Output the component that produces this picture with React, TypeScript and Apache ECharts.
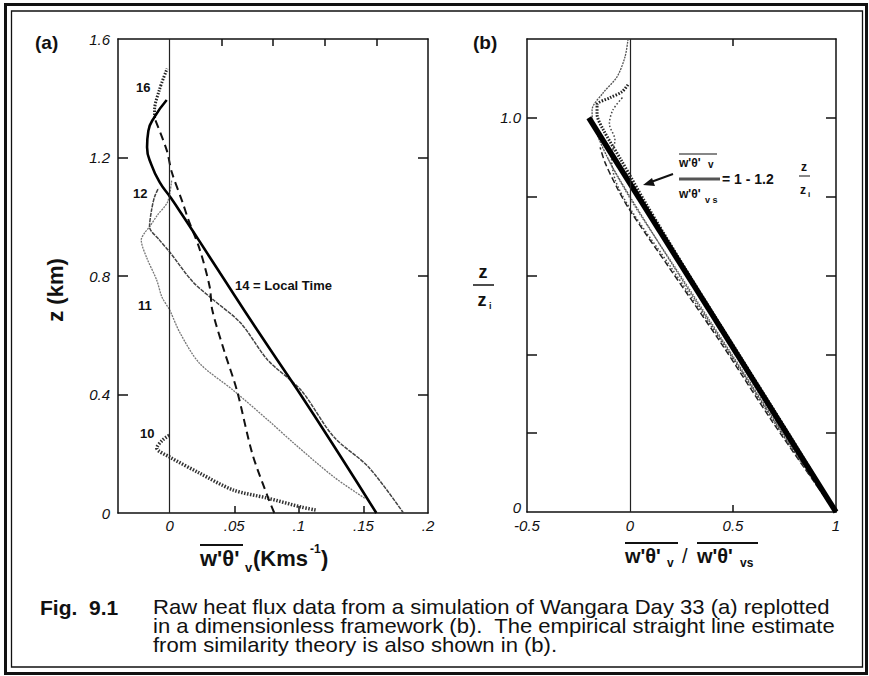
import React, { useEffect, useRef } from "react";
import * as echarts from "echarts";

// ---------- Panel (a): heat flux (K m/s) vs height z (km) ----------
const aTickValuesX = [0, 0.05, 0.1, 0.15, 0.2];
const aTickLabelsX = ["0", ".05", ".1", ".15", ".2"];
const aTickValuesY = [0, 0.4, 0.8, 1.2, 1.6];
const aTickLabelsY = ["0", "0.4", "0.8", "1.2", "1.6"];

const localTime14 = [[0.16, 0], [0.131, 0.2], [0.099, 0.415], [0.0674, 0.62], [0.039, 0.81], [0.0224, 0.922], [0.0098, 1.006], [0.001, 1.063], [-0.0078, 1.117], [-0.0141, 1.175], [-0.0175, 1.235], [-0.0165, 1.29], [-0.0117, 1.337], [-0.0023, 1.394]];
const localTime16 = [[0.081, 0], [0.076, 0.054], [0.064, 0.2], [0.052, 0.415], [0.042, 0.55], [0.033, 0.685], [0.031, 0.763], [0.0234, 0.888], [0.014, 0.996], [0.0102, 1.046], [0.0016, 1.151], [-0.0023, 1.225], [-0.0117, 1.333]];
const localTime16Top = [[-0.0117, 1.333], [-0.0117, 1.36], [-0.008, 1.428], [-0.002, 1.5]];
const localTime12 = [[0.181, 0], [0.154, 0.155], [0.127, 0.257], [0.1016, 0.415], [0.076, 0.516], [0.055, 0.641], [0.034, 0.719], [0.018, 0.78], [0, 0.881], [-0.008, 0.922], [-0.0156, 0.966], [-0.014, 1.023], [-0.0117, 1.067], [-0.0086, 1.097]];
const localTime11 = [[0.151, 0.05], [0.127, 0.122], [0.096, 0.236], [0.076, 0.314], [0.049, 0.415], [0.023, 0.506], [0.008, 0.608], [0, 0.685], [-0.006, 0.729], [-0.01, 0.786], [-0.018, 0.864], [-0.022, 0.922], [-0.0195, 0.945], [-0.0156, 0.966], [-0.0094, 1.006], [-0.0016, 1.05], [0.0016, 1.124]];
const localTime10 = [[0.113, 0.01], [0.102, 0.02], [0.076, 0.05], [0.049, 0.078], [0.023, 0.135], [0, 0.189], [-0.01, 0.219], [-0.0055, 0.246], [0, 0.263]];

// ---------- Panel (b): normalised flux vs z/zi ----------
const bTickValuesX = [-0.5, 0, 0.5, 1];
const bTickLabelsX = ["-0.5", "0", "0.5", "1"];
const bLabelValuesY = [0, 1.0];
const bLabelTextsY = ["0", "1.0"];
const bTickValuesY = [0.2, 0.4, 0.6, 0.8, 1.0];

const bEmpirical = [[1, 0], [-0.2, 1.0]];
const bProfile14 = [[1, 0], [0.74, 0.2], [0.49, 0.4], [0.24, 0.6], [0.0, 0.8], [-0.11, 0.9], [-0.18, 0.99], [-0.184, 1.02], [-0.131, 1.063], [-0.063, 1.104], [-0.024, 1.155], [-0.01, 1.198]];
const bProfile16 = [[1, 0], [0.78, 0.19], [0.54, 0.39], [0.3, 0.59], [0.08, 0.78], [-0.04, 0.89], [-0.13, 0.97], [-0.16, 1.01], [-0.16, 1.033], [-0.097, 1.051], [-0.039, 1.066], [-0.01, 1.084]];
const bProfile12 = [[0.98, 0.01], [0.71, 0.22], [0.46, 0.42], [0.2, 0.62], [0.0, 0.77], [-0.07, 0.84], [-0.09, 0.9], [-0.073, 0.944], [-0.1, 0.985], [-0.083, 1.02], [-0.034, 1.053]];
const bProfile11 = [[0.97, 0.02], [0.69, 0.23], [0.44, 0.43], [0.19, 0.62], [0.0, 0.765], [-0.06, 0.82], [-0.12, 0.885], [-0.145, 0.925]];
const bProfile10 = [[0.99, 0.01], [0.72, 0.22], [0.47, 0.42], [0.22, 0.62], [0.03, 0.77], [-0.06, 0.85], [-0.11, 0.9]];

const captionLines = [
  "Raw heat flux data from a simulation of Wangara Day 33 (a) replotted",
  "in a dimensionless framework (b).  The empirical straight line estimate",
  "from similarity theory is also shown in (b).",
];

const SANS = "'Liberation Sans', Arial, Helvetica, sans-serif";

function pick(values: number[], labels: string[]) {
  return (v: number) => {
    const i = values.findIndex((t) => Math.abs(t - v) < 1e-9);
    return i >= 0 ? labels[i] : "";
  };
}

const axisLine = { show: true, onZero: false, lineStyle: { color: "#111", width: 1.5 } };
const tickLabel = { fontFamily: SANS, fontStyle: "italic" as const, fontSize: 15, color: "#111" };
const tickStyle = { color: "#111", width: 1.5 };

function lineSeries(data: number[][], idx: number, style: any, smooth: number | boolean = 0.3) {
  return {
    type: "line",
    xAxisIndex: idx,
    yAxisIndex: idx,
    data,
    showSymbol: false,
    smooth,
    lineStyle: style,
    silent: true,
    z: 3,
  };
}

export default function App() {
  const ref = useRef<HTMLDivElement>(null);
  useEffect(() => {
    if (!ref.current) return;
    const chart = echarts.init(ref.current, null, { renderer: "svg" });
    const txt = (x: number, y: number, text: string, extra: any = {}, el: any = {}) => ({
      type: "text",
      x,
      y,
      silent: true,
      ...el,
      style: { text, fontFamily: SANS, fontSize: 14, fill: "#111", verticalAlign: "middle", ...extra },
    });
    const ln = (x1: number, y1: number, x2: number, y2: number, w = 1.5, color = "#111") => ({
      type: "line",
      silent: true,
      shape: { x1, y1, x2, y2 },
      style: { stroke: color, lineWidth: w },
    });

    const bYFormatter = (v: number) => {
      const s = pick(bLabelValuesY, bLabelTextsY)(v);
      if (!s) return "";
      return Math.abs(v) < 1e-9 ? `{lift|${s}}` : s;
    };

    const option: any = {
      animation: false,
      backgroundColor: "#fff",
      grid: [
        { left: 118, top: 39, width: 310, height: 474 },
        { left: 527, top: 39, width: 309, height: 473 },
      ],
      xAxis: [
        {
          gridIndex: 0, type: "value", position: "bottom", min: -0.04, max: 0.2,
          axisLine, splitLine: { show: false },
          axisTick: { show: true, inside: true, length: 7, customValues: aTickValuesX.slice(1, 4), lineStyle: tickStyle },
          axisLabel: { ...tickLabel, margin: 5, customValues: aTickValuesX, formatter: pick(aTickValuesX, aTickLabelsX) },
        },
        {
          gridIndex: 0, type: "value", position: "top", min: -0.04, max: 0.2, interval: 0.04,
          axisLine, splitLine: { show: false },
          axisTick: { show: true, inside: true, length: 7, customValues: [0.04, 0.08, 0.12, 0.16], lineStyle: tickStyle },
          axisLabel: { show: false },
        },
        {
          gridIndex: 1, type: "value", position: "bottom", min: -0.5, max: 1, interval: 0.5,
          axisLine, splitLine: { show: false },
          axisTick: { show: true, inside: true, length: 7, customValues: [0.5], lineStyle: tickStyle },
          axisLabel: { ...tickLabel, margin: 6, customValues: bTickValuesX, formatter: pick(bTickValuesX, bTickLabelsX) },
        },
        {
          gridIndex: 1, type: "value", position: "top", min: -0.5, max: 1, interval: 0.5,
          axisLine, splitLine: { show: false },
          axisTick: { show: true, inside: true, length: 7, customValues: [0.5], lineStyle: tickStyle },
          axisLabel: { show: false },
        },
      ],
      yAxis: [
        {
          gridIndex: 0, type: "value", position: "left", min: 0, max: 1.6, interval: 0.4,
          axisLine, splitLine: { show: false },
          axisTick: { show: true, inside: true, length: 10, customValues: aTickValuesY.slice(1, 4), lineStyle: tickStyle },
          axisLabel: { ...tickLabel, margin: 8, formatter: pick(aTickValuesY, aTickLabelsY) },
        },
        {
          gridIndex: 0, type: "value", position: "right", min: 0, max: 1.6, interval: 0.4,
          axisLine, splitLine: { show: false },
          axisTick: { show: true, inside: true, length: 10, customValues: aTickValuesY.slice(1, 4), lineStyle: tickStyle },
          axisLabel: { show: false },
        },
        {
          gridIndex: 1, type: "value", position: "left", min: 0, max: 1.2, interval: 0.2,
          axisLine, splitLine: { show: false },
          axisTick: { show: true, inside: true, length: 10, customValues: bTickValuesY, lineStyle: tickStyle },
          axisLabel: {
            ...tickLabel, margin: 6, customValues: bLabelValuesY, formatter: bYFormatter,
            rich: { lift: { ...tickLabel, padding: [0, 0, 10, 0] } },
          },
        },
        {
          gridIndex: 1, type: "value", position: "right", min: 0, max: 1.2, interval: 0.2,
          axisLine, splitLine: { show: false },
          axisTick: { show: true, inside: true, length: 10, customValues: bTickValuesY, lineStyle: tickStyle },
          axisLabel: { show: false },
        },
      ],
      series: [
        {
          ...lineSeries([], 0, {}),
          markLine: {
            silent: true, symbol: "none", label: { show: false },
            lineStyle: { color: "#222", width: 1.2, type: "solid" },
            data: [{ xAxis: 0 }],
          },
        },
        lineSeries(localTime10, 0, { color: "#333", width: 3.5, type: [1.5, 1.5] }),
        lineSeries(localTime11, 0, { color: "#777", width: 1.3, type: [2, 1] }),
        lineSeries(localTime12, 0, { color: "#444", width: 1.5, type: [4, 1] }),
        lineSeries(localTime16, 0, { color: "#111", width: 2, type: [8, 5] }),
        lineSeries(localTime16Top, 0, { color: "#222", width: 3, type: [1.5, 1.5] }),
        lineSeries(localTime14, 0, { color: "#000", width: 2.6, type: "solid" }, 0.5),
        {
          ...lineSeries([], 2, {}),
          markLine: {
            silent: true, symbol: "none", label: { show: false },
            lineStyle: { color: "#222", width: 1.2, type: "solid" },
            data: [{ xAxis: 0 }],
          },
        },
        lineSeries(bProfile14, 2, { color: "#555", width: 1.3, type: [2, 1] }),
        lineSeries(bProfile11, 2, { color: "#222", width: 1.5, type: [6, 3] }),
        lineSeries(bProfile10, 2, { color: "#666", width: 1.3, type: [1.5, 1.5] }),
        lineSeries(bProfile12, 2, { color: "#444", width: 1.5, type: [1.5, 2] }),
        lineSeries(bProfile16, 2, { color: "#222", width: 3, type: [1.5, 1.5] }),
        lineSeries(bEmpirical, 2, { color: "#000", width: 5.5, type: "solid" }, false),
      ],
      graphic: [
        // outer double frame
        { type: "rect", silent: true, shape: { x: 5.5, y: 4.5, width: 861, height: 669 }, style: { fill: "none", stroke: "#111", lineWidth: 3 } },
        { type: "rect", silent: true, shape: { x: 11.5, y: 11, width: 851, height: 656 }, style: { fill: "none", stroke: "#111", lineWidth: 1.3 } },
        // panel letters
        txt(35, 42, "(a)", { fontSize: 19, fontWeight: "bold" }),
        txt(473, 42, "(b)", { fontSize: 19, fontWeight: "bold" }),
        // panel (a) axis titles
        {
          type: "text", silent: true, x: 55, y: 290, rotation: Math.PI / 2,
          style: { text: "z (km)", fontFamily: SANS, fontSize: 22, fontWeight: "bold", fill: "#111", align: "center", verticalAlign: "middle" },
        },
        ln(200, 545, 243, 545, 2),
        txt(200, 558, "w'θ'", { fontSize: 22, fontWeight: "bold" }),
        txt(245, 567, "v", { fontSize: 13, fontWeight: "bold" }),
        txt(253, 558, "(Kms", { fontSize: 22, fontWeight: "bold" }),
        txt(310, 549, "-1", { fontSize: 12, fontWeight: "bold" }),
        txt(321, 558, ")", { fontSize: 22, fontWeight: "bold" }),
        // curve labels in (a)
        txt(136, 87, "16", { fontSize: 13, fontWeight: "bold" }),
        txt(133, 193, "12", { fontSize: 13, fontWeight: "bold" }),
        txt(138, 305, "11", { fontSize: 13, fontWeight: "bold" }),
        txt(140, 433, "10", { fontSize: 13, fontWeight: "bold" }),
        txt(235, 285, "14 = Local Time", { fontSize: 13, fontWeight: "bold" }),
        // panel (b) axis titles
        txt(483, 272, "z", { fontSize: 18, fontWeight: "bold", align: "center" }),
        ln(473, 285, 494, 285, 1.5),
        txt(482, 300, "z", { fontSize: 18, fontWeight: "bold", align: "center" }),
        txt(489, 306, "i", { fontSize: 9, fontWeight: "bold" }),
        ln(625, 543, 678, 543, 2),
        ln(697, 543, 758, 543, 2),
        txt(625, 556, "w'θ'", { fontSize: 20, fontWeight: "bold" }),
        txt(667, 563, "v", { fontSize: 12, fontWeight: "bold" }),
        txt(682, 556, "/", { fontSize: 20 }),
        txt(697, 556, "w'θ'", { fontSize: 20, fontWeight: "bold" }),
        txt(740, 563, "vs", { fontSize: 12, fontWeight: "bold" }),
        // equation annotation in (b)
        ln(673, 174, 651, 182, 2),
        { type: "polygon", silent: true, shape: { points: [[643, 185], [652, 178], [655, 186]] }, style: { fill: "#111" } },
        ln(679, 154, 717, 154, 1.2),
        txt(679, 163, "w'θ'", { fontSize: 12, fontWeight: "bold" }),
        txt(708, 164, "v", { fontSize: 10, fontWeight: "bold" }),
        ln(679, 179, 720, 179, 3, "#555"),
        txt(722, 179, "= 1 - 1.2", { fontSize: 14, fontWeight: "bold" }),
        txt(679, 194, "w'θ'", { fontSize: 12, fontWeight: "bold" }),
        txt(705, 200, "v s", { fontSize: 9, fontWeight: "bold" }),
        txt(804, 167, "z", { fontSize: 12, fontWeight: "bold", align: "center" }),
        ln(799, 176, 810, 176, 1),
        txt(803, 190, "z", { fontSize: 12, fontWeight: "bold", align: "center" }),
        txt(808, 194, "i", { fontSize: 8, fontWeight: "bold" }),
        // caption
        txt(40, 607, "Fig.  9.1", { fontSize: 21, fontWeight: "bold" }),
        txt(153, 607, captionLines[0], { fontSize: 21 }, { scaleX: 1.05 }),
        txt(153, 626, captionLines[1], { fontSize: 21 }, { scaleX: 1.05 }),
        txt(153, 645, captionLines[2], { fontSize: 21 }, { scaleX: 1.05 }),
      ],
    };
    chart.setOption(option);
    return () => chart.dispose();
  }, []);
  return (
    <div
      ref={ref}
      style={{ position: "fixed", left: 0, top: 0, width: 869, height: 676, background: "#fff" }}
    />
  );
}
